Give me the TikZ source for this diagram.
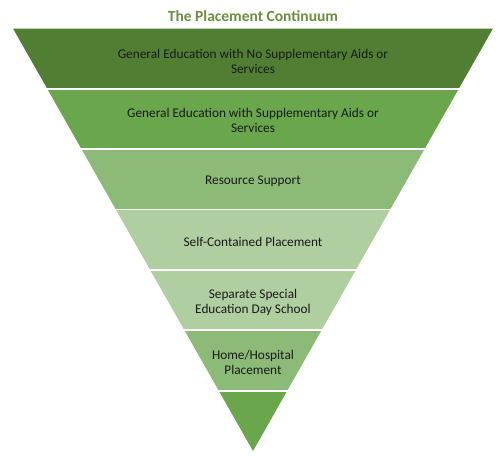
\documentclass[tikz,border=0pt]{standalone}
\usepackage{fontspec}
\setmainfont{Carlito}
\usetikzlibrary{calc}
\definecolor{gA}{HTML}{507E32}
\definecolor{gB}{HTML}{6AA64B}
\definecolor{gC}{HTML}{8CBA77}
\definecolor{gD}{HTML}{B0CFA0}
\definecolor{titlegreen}{HTML}{6A8F3C}
\definecolor{txt}{HTML}{1A1A1A}
\tikzset{
  bandtext/.style={align=center, text=txt, font=\fontsize{13.3}{15}\selectfont, inner sep=0pt},
  gapline/.style={draw=white, line width=1.8pt},
}
\begin{document}
\begin{tikzpicture}[x=1pt,y=-1pt]
\useasboundingbox (0,0) rectangle (500,455);
\coordinate (TL) at (13,28.5);
\coordinate (TR) at (493,28.5);
\coordinate (A) at (253,451);
\foreach \k in {0,...,7}{
  \coordinate (L\k) at ($(TL)!\k/7!(A)$);
  \coordinate (R\k) at ($(TR)!\k/7!(A)$);
}
\fill[gA] (L0) -- (R0) -- (R1) -- (L1) -- cycle;
\fill[gB] (L1) -- (R1) -- (R2) -- (L2) -- cycle;
\fill[gC] (L2) -- (R2) -- (R3) -- (L3) -- cycle;
\fill[gD] (L3) -- (R3) -- (R4) -- (L4) -- cycle;
\fill[gD] (L4) -- (R4) -- (R5) -- (L5) -- cycle;
\fill[gC] (L5) -- (R5) -- (R6) -- (L6) -- cycle;
\fill[gB] (L6) -- (R6) -- (A) -- cycle;
\foreach \k in {1,...,6}{
  \draw[gapline] ($(L\k)+(-2,0)$) -- ($(R\k)+(2,0)$);
}
\node[font=\bfseries\fontsize{15.5}{17}\selectfont, text=titlegreen] (title) at (253,16) {The Placement Continuum};
\node[bandtext] (b1) at (253,61) {General Education with No Supplementary Aids or\\Services};
\node[bandtext] (b2) at (253,120.5) {General Education with Supplementary Aids or\\Services};
\node[bandtext] (b3) at (253,181) {Resource Support};
\node[bandtext] (b4) at (253,242) {Self-Contained Placement};
\node[bandtext] (b5) at (253,302) {Separate Special\\Education Day School};
\node[bandtext] (b6) at (253,362) {Home/Hospital\\Placement};
\end{tikzpicture}
\end{document}
